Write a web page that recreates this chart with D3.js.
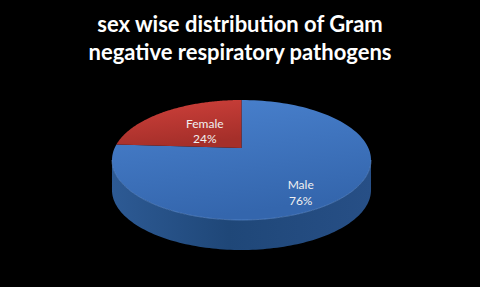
<!DOCTYPE html>
<html>
<head>
<meta charset="utf-8">
<script src="https://cdn.jsdelivr.net/npm/d3@7"></script>
<style>
  html, body { margin: 0; padding: 0; background: #000; }
  svg { display: block; }
</style>
</head>
<body>
<svg id="chart" width="480" height="287"></svg>
<script>
const categories = ["Male", "Female"];
const values = [76, 24];
const pctLabels = ["76%", "24%"];
const titleLines = ["sex wise distribution of Gram", "negative respiratory pathogens"];

const svg = d3.select("#chart");
const width = +svg.attr("width");
const height = +svg.attr("height");

svg.append("rect").attr("width", width).attr("height", height).attr("fill", "#000");

// title
svg.append("g")
  .selectAll("text")
  .data(titleLines)
  .enter()
  .append("text")
  .attr("x", 240)
  .attr("y", (d, i) => 32 + i * 28)
  .attr("text-anchor", "middle")
  .attr("fill", "#fff")
  .style("font-family", "Lato, 'Open Sans', sans-serif")
  .style("font-weight", "bold")
  .style("font-size", "22px")
  .text((d) => d);

// perspective projection of a tilted disc
const cx = 241.5, cy = 148;      // where the disc centre lands on screen
const sx = 126.9, sy = 57.6;     // horizontal / vertical scale
const k = 0.2;                   // perspective strength
const depth = 30;

// a: clockwise from 12 o'clock, r: 0..1
function proj(a, r, dz) {
  const X = r * Math.sin(a), Y = r * Math.cos(a);
  const q = 1 + k * Y;
  return [cx + sx * X / q, cy - sy * Y / q + (dz || 0)];
}

// Male starts at 12 o'clock going clockwise, Female fills the rest
const pie = d3.pie().sort(null).value((d) => d.v);
const arcs = pie(categories.map((c, i) => ({ c, v: values[i], p: pctLabels[i] })));

const colors = { Male: ["#4a82cf", "#3466ad"], Female: ["#d0413b", "#a52f2a"] };

const defs = svg.append("defs");
Object.keys(colors).forEach((key) => {
  const g = defs.append("linearGradient").attr("id", "top-" + key)
    .attr("x1", "0").attr("y1", "0").attr("x2", "0.3").attr("y2", "1");
  g.append("stop").attr("offset", "0%").attr("stop-color", colors[key][0]);
  g.append("stop").attr("offset", "100%").attr("stop-color", colors[key][1]);
});
const sideGrad = defs.append("linearGradient").attr("id", "side")
  .attr("x1", "0").attr("y1", "0").attr("x2", "1").attr("y2", "0");
sideGrad.append("stop").attr("offset", "0%").attr("stop-color", "#2d5a94");
sideGrad.append("stop").attr("offset", "45%").attr("stop-color", "#1f4778");
sideGrad.append("stop").attr("offset", "100%").attr("stop-color", "#274f86");

const line = d3.line();
const steps = 120;

// visible side between the silhouette points (cos a = -k)
const aL = Math.acos(-k), aR = 2 * Math.PI - Math.acos(-k);
arcs.forEach((d) => {
  const a0 = Math.max(d.startAngle, aL), a1 = Math.min(d.endAngle, aR);
  if (a1 <= a0) return;
  const top = [], bot = [];
  for (let i = 0; i <= steps; i++) {
    const a = a0 + (a1 - a0) * i / steps;
    top.push(proj(a, 1));
    bot.push(proj(a, 1, depth));
  }
  svg.append("path")
    .attr("d", line(top.concat(bot.reverse())) + "Z")
    .attr("fill", d.data.c === "Male" ? "url(#side)" : "#8a2622");
});

// top faces
arcs.forEach((d) => {
  const pts = [proj(0, 0)];
  for (let i = 0; i <= steps; i++) {
    pts.push(proj(d.startAngle + (d.endAngle - d.startAngle) * i / steps, 1));
  }
  svg.append("path")
    .attr("d", line(pts) + "Z")
    .attr("fill", "url(#top-" + d.data.c + ")");
});

// faint rim highlight on the front edge
const rim = [];
for (let i = 0; i <= steps; i++) rim.push(proj(aL + (aR - aL) * i / steps, 1));
svg.append("path")
  .attr("d", line(rim))
  .attr("fill", "none")
  .attr("stroke", "#5f90d2")
  .attr("stroke-opacity", 0.6)
  .attr("stroke-width", 1);

// labels
const labels = svg.append("g")
  .style("font-family", "Lato, 'Open Sans', sans-serif")
  .style("font-size", "12px")
  .attr("fill", "#f0f0f0")
  .attr("text-anchor", "middle");

arcs.forEach((d) => {
  const mid = (d.startAngle + d.endAngle) / 2;
  const front = Math.cos(mid) < 0;
  const p = proj(mid, front ? 0.62 : 0.45, front ? depth / 2 : 0);
  const t = labels.append("text").attr("x", p[0]).attr("y", p[1]);
  t.append("tspan").attr("x", p[0]).attr("dy", "-0.2em").text(d.data.c);
  t.append("tspan").attr("x", p[0]).attr("dy", "1.3em").text(d.data.p);
});
</script>
</body>
</html>
